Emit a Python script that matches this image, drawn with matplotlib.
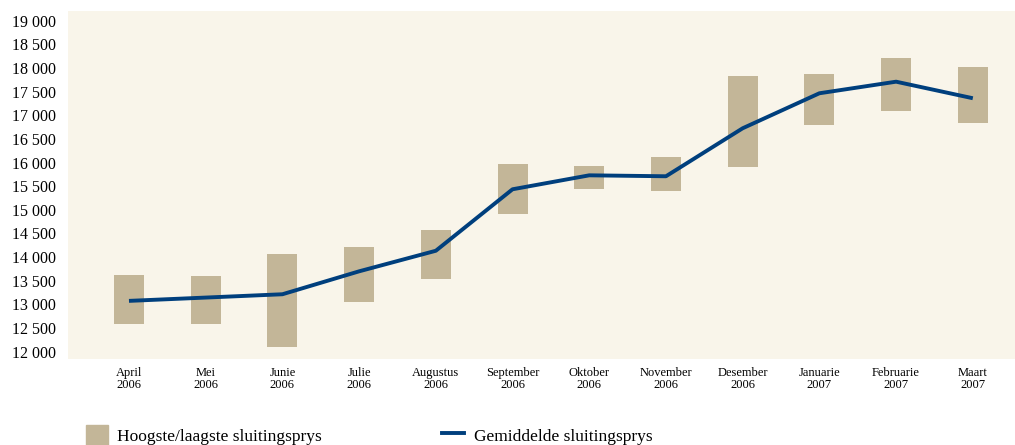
#!/usr/bin/env python3
import matplotlib
matplotlib.use("Agg")
import matplotlib.pyplot as plt
from matplotlib.patches import Patch
from matplotlib.lines import Line2D
from matplotlib.ticker import FuncFormatter, MultipleLocator
import numpy as np

months = ["April\n2006", "Mei\n2006", "Junie\n2006", "Julie\n2006", "Augustus\n2006",
          "September\n2006", "Oktober\n2006", "November\n2006", "Desember\n2006",
          "Januarie\n2007", "Februarie\n2007", "Maart\n2007"]
high = [13620, 13600, 14070, 14215, 14570, 15970, 15930, 16125, 17840, 17875, 18210, 18020]
low = [12595, 12595, 12105, 13060, 13545, 14920, 15450, 15405, 15905, 16795, 17090, 16835]
avg = [13075, 13145, 13215, 13700, 14135, 15435, 15730, 15710, 16725, 17465, 17710, 17360]

bg = "#f9f5ea"
bar_col = "#c3b698"
line_col = "#003f7d"

plt.rcParams["font.family"] = ["Liberation Serif", "DejaVu Serif"]

fig = plt.figure(figsize=(10.15, 4.45), dpi=100)
ax = fig.add_axes([68 / 1015, 1 - 359 / 445, 1 - 68 / 1015, (359 - 10.7) / 445])
ax.set_facecolor(bg)

x = np.arange(len(months))
ax.bar(x, np.array(high) - np.array(low), bottom=low, width=0.39, color=bar_col, zorder=2)
ax.plot(x, avg, color=line_col, lw=2.8, zorder=3, solid_capstyle="butt")

ax.set_xlim(-0.795, 11.55)
ax.set_ylim(11846, 19211)
ax.yaxis.set_major_locator(MultipleLocator(500))
ax.yaxis.set_major_formatter(FuncFormatter(lambda v, p: f"{int(v):,}".replace(",", " ")))
ax.set_xticks(x)
ax.set_xticklabels(months, fontsize=9, linespacing=0.95)
ax.tick_params(axis="y", length=0, pad=9, labelsize=11.5)
ax.tick_params(axis="x", length=0, pad=6)
for s in ax.spines.values():
    s.set_visible(False)

handles = [Patch(color=bar_col), Line2D([], [], color=line_col, lw=2.8)]
fig.legend(handles, ["Hoogste/laagste sluitingsprys", "Gemiddelde sluitingsprys"],
           loc="lower left", bbox_to_anchor=(70 / 1015, -0.035), ncol=2, frameon=False,
           fontsize=12.5, handlelength=1.26, handleheight=1.4, handletextpad=0.57,
           columnspacing=6.9)

fig.savefig("out.png", dpi=100)
